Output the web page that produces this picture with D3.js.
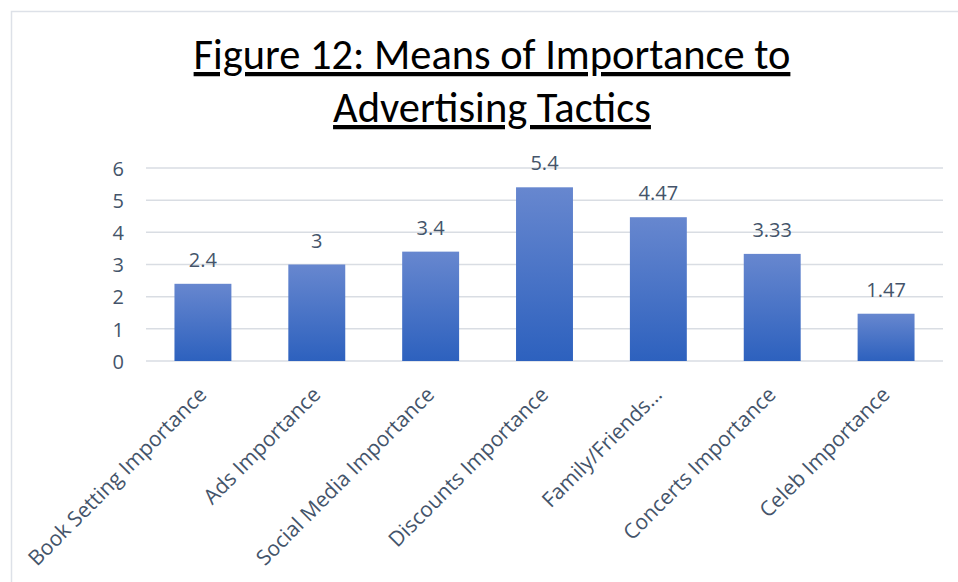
<!DOCTYPE html>
<html>
<head>
<meta charset="utf-8">
<script src="https://cdn.jsdelivr.net/npm/d3@7"></script>
<style>
  body { margin: 0; background: #fff; }
</style>
</head>
<body>
<div id="chart"></div>
<script>
// Chart data
var categories = ["Book Setting Importance", "Ads Importance", "Social Media Importance",
    "Discounts Importance", "Family/Friends…", "Concerts Importance", "Celeb Importance"];
var means = [2.4, 3, 3.4, 5.4, 4.47, 3.33, 1.47];
var yTicks = [0, 1, 2, 3, 4, 5, 6];
var titleLines = ["Figure 12: Means of Importance to", "Advertising Tactics"];

var svgWidth = 958;
var svgHeight = 582;
var plot = {left: 146, right: 943, top: 168, bottom: 361};
var textColor = "#44546A";
var labelFont = "'Open Sans', sans-serif";

var svg = d3.select("#chart").append("svg").attr("width", svgWidth).attr("height", svgHeight);

// Chart frame
svg.append("rect").attr("x", 11.5).attr("y", 11.5).attr("width", 980).attr("height", 600)
    .attr("fill", "#fff").attr("stroke", "#dde1e8").attr("stroke-width", 1.5);

// Gradient for bars
var grad = svg.append("defs").append("linearGradient").attr("id", "barGrad")
    .attr("x1", 0).attr("y1", 0).attr("x2", 0).attr("y2", 1);
grad.append("stop").attr("offset", "0%").attr("stop-color", "#6787cf");
grad.append("stop").attr("offset", "100%").attr("stop-color", "#2d61be");

var xScale = d3.scaleBand().domain(categories).range([plot.left, plot.right]).paddingInner(0.5).paddingOuter(0.25);
var yScale = d3.scaleLinear().domain([0, 6]).range([plot.bottom, plot.top]);

// Title
var title = svg.append("g");
titleLines.forEach((t, i) => {
    var txt = title.append("text")
        .attr("x", 492).attr("y", 69 + i * 53)
        .attr("text-anchor", "middle")
        .attr("font-family", "Carlito, Calibri, Lato, sans-serif")
        .attr("font-size", 36)
        .attr("fill", "#000")
        .style("text-decoration", "underline")
        .text(t);
    // fit the font to the reference width
    var target = i == 0 ? 597 : 318;
    var w = txt.node().getComputedTextLength();
    txt.attr("font-size", 36 * target / w);
});

// Gridlines
svg.append("g").selectAll("line").data(yTicks).enter().append("line")
    .attr("x1", plot.left).attr("x2", plot.right)
    .attr("y1", d => yScale(d)).attr("y2", d => yScale(d))
    .attr("stroke", "#d9dde3").attr("stroke-width", 1.5);

// Y axis labels
var leftAxis = d3.axisLeft(yScale).tickValues(yTicks).tickFormat(d3.format("d")).tickSize(0).tickPadding(0);
var yAxis = svg.append("g").attr("transform", "translate(124,0)").call(leftAxis);
yAxis.select(".domain").remove();
yAxis.selectAll("text")
    .style("font-family", labelFont).style("font-size", "20px")
    .attr("fill", textColor).attr("dy", "0.36em");

// Bars
svg.append("g").selectAll("rect").data(means).enter().append("rect")
    .attr("x", (d, i) => xScale(categories[i]))
    .attr("y", d => yScale(d))
    .attr("width", xScale.bandwidth())
    .attr("height", d => yScale(0) - yScale(d))
    .attr("fill", "url(#barGrad)");

// Data labels
svg.append("g").selectAll("text").data(means).enter().append("text")
    .attr("x", (d, i) => xScale(categories[i]) + xScale.bandwidth() / 2)
    .attr("y", d => yScale(d) - 17)
    .attr("text-anchor", "middle")
    .style("font-family", labelFont).style("font-size", "20px")
    .attr("fill", textColor)
    .text(d => d);

// Category labels, rotated
var bottomAxis = d3.axisBottom(xScale).tickSize(0).tickPadding(0);
var xAxis = svg.append("g").attr("transform", `translate(0,${plot.bottom})`).call(bottomAxis);
xAxis.select(".domain").remove();
xAxis.selectAll("text")
    .style("font-family", labelFont).style("font-size", "21px")
    .attr("fill", textColor)
    .attr("text-anchor", "end")
    .attr("dy", 0)
    .attr("transform", "translate(5,35) rotate(-45)");
</script>
</body>
</html>
